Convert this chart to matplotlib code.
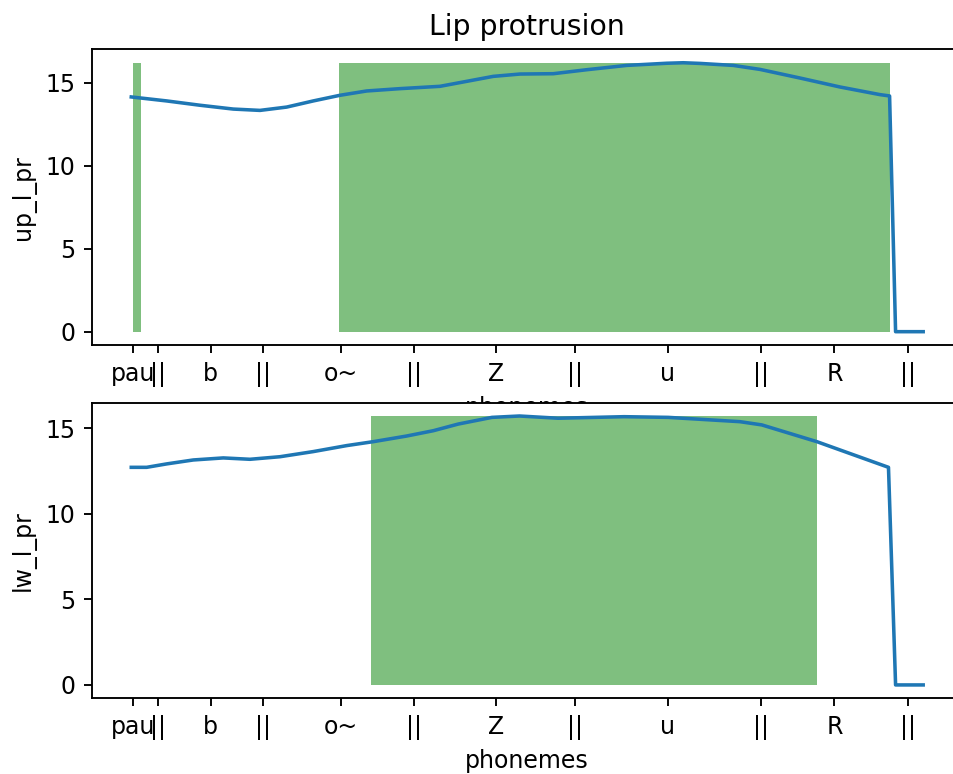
import numpy as np
import matplotlib
matplotlib.use("Agg")
import matplotlib.pyplot as plt

# time axis in seconds
phonemes = ["pau", "||", "b", "||", "o~", "||", "Z", "||", "u", "||", "R", "||"]
phoneme_ticks = [0.0017, 0.0270, 0.0793, 0.1322, 0.2093, 0.2825, 0.3651, 0.4433, 0.5363, 0.6294, 0.7032, 0.7764]

# upper lip protrusion
up_t = [0.0, 0.0354, 0.0687, 0.102, 0.1287, 0.1554, 0.182, 0.2087, 0.2354, 0.2687,
        0.3087, 0.3354, 0.362, 0.3887, 0.422, 0.4554, 0.4954, 0.5354, 0.552, 0.5687,
        0.602, 0.6287, 0.6687, 0.7087, 0.7487, 0.7583, 0.7643, 0.7919]
up_l_pr = [14.14, 13.90, 13.64, 13.41, 13.33, 13.53, 13.90, 14.24, 14.50, 14.64,
           14.78, 15.08, 15.38, 15.52, 15.54, 15.78, 16.04, 16.17, 16.20, 16.16,
           16.04, 15.80, 15.28, 14.74, 14.28, 14.20, 0.0, 0.0]
up_regions = [(0.0017, 0.0099), (0.2081, 0.7588)]

# lower lip protrusion
lw_t = [0.0, 0.0154, 0.0354, 0.062, 0.092, 0.1187, 0.1487, 0.182, 0.2154, 0.242,
        0.2754, 0.302, 0.327, 0.3607, 0.3882, 0.4268, 0.4928, 0.5369, 0.6085, 0.6305,
        0.6856, 0.7572, 0.7643, 0.7919]
lw_l_pr = [12.72, 12.72, 12.92, 13.15, 13.27, 13.19, 13.34, 13.64, 13.99, 14.22,
           14.55, 14.86, 15.25, 15.64, 15.72, 15.59, 15.68, 15.64, 15.39, 15.20,
           14.22, 12.72, 0.0, 0.0]
lw_regions = [(0.2401, 0.6861)]

dpi = 170
fig = plt.figure(figsize=(954 / dpi, 774 / dpi), dpi=dpi)
ax1 = fig.add_axes([0.0961, 0.5541, 0.9131, 0.3822])
ax2 = fig.add_axes([0.0961, 0.0977, 0.9131, 0.3822])

panels = [(ax1, up_t, up_l_pr, up_regions, "up_l_pr"),
          (ax2, lw_t, lw_l_pr, lw_regions, "lw_l_pr")]

for ax, t, y, regions, name in panels:
    ymax = max(y)
    for start, end in regions:
        ax.fill_between([start, end], 0, ymax, color="g", alpha=0.5, linewidth=0)
    ax.plot(t, y)
    ax.set_xticks(phoneme_ticks)
    ax.set_xticklabels(phonemes)
    ax.set_xlabel("phonemes")
    ax.set_ylabel(name)

ax1.set_title("Lip protrusion")

fig.savefig("out.png", dpi=dpi)
